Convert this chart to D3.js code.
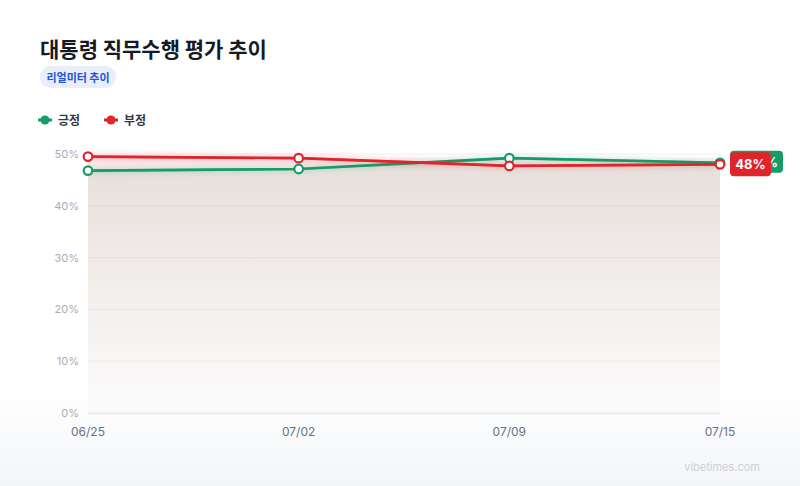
<!DOCTYPE html>
<html>
<head>
<meta charset="utf-8">
<script src="https://cdn.jsdelivr.net/npm/d3@7"></script>
<style>
  html, body { margin: 0; padding: 0; }
  body { width: 800px; height: 486px; overflow: hidden; font-family: "Noto Sans CJK KR", "Noto Sans", sans-serif; }
</style>
</head>
<body>
<div id="my_dataviz"></div>
<script>
// data
const dates = ["06/25", "07/02", "07/09", "07/15"]
const positive = [46.8, 47.1, 49.2, 48.3]
const negative = [49.5, 49.2, 47.7, 48.0]
const yTicks = [0, 10, 20, 30, 40, 50]
const seriesNames = ["긍정", "부정"]

const width = 800, height = 486
const green = "#169c67", red = "#e0242b"

const svg = d3.select("#my_dataviz")
    .append("svg")
    .attr("width", width)
    .attr("height", height)

const defs = svg.append("defs")

// page background gradient
const bg = defs.append("linearGradient").attr("id", "bg").attr("x1", 0).attr("x2", 0).attr("y1", 0).attr("y2", 1)
bg.append("stop").attr("offset", "0.8").attr("stop-color", "#ffffff")
bg.append("stop").attr("offset", "1").attr("stop-color", "#f3f5f8")
svg.append("rect").attr("width", width).attr("height", height).attr("fill", "url(#bg)")

// scales
const xScale = d3.scalePoint().domain(dates).range([88, 720])
const yScale = d3.scaleLinear().domain([0, 50]).range([413, 154])

// area gradients
function areaGrad(id, color) {
    const g = defs.append("linearGradient").attr("id", id)
        .attr("gradientUnits", "userSpaceOnUse")
        .attr("x1", 0).attr("x2", 0).attr("y1", yScale(50)).attr("y2", yScale(0))
    g.append("stop").attr("offset", 0).attr("stop-color", color).attr("stop-opacity", 0.105)
    g.append("stop").attr("offset", 1).attr("stop-color", color).attr("stop-opacity", 0.008)
}
areaGrad("gPos", green)
areaGrad("gNeg", red)

const glow = defs.append("filter").attr("id", "glow").attr("x", "-10%").attr("y", "-200%").attr("width", "120%").attr("height", "500%")
glow.append("feGaussianBlur").attr("in", "SourceGraphic").attr("stdDeviation", 3).attr("result", "b")
const fm = glow.append("feMerge")
fm.append("feMergeNode").attr("in", "b")
fm.append("feMergeNode").attr("in", "SourceGraphic")

// title
svg.append("text").attr("x", 40).attr("y", 57)
    .attr("font-size", 21).attr("font-weight", 700).attr("fill", "#161a24")
    .text("대통령 직무수행 평가 추이")

svg.append("rect").attr("x", 40).attr("y", 66).attr("width", 76).attr("height", 22).attr("rx", 11)
    .attr("fill", "#e8eefb")
svg.append("text").attr("x", 78).attr("y", 81.5).attr("text-anchor", "middle")
    .attr("font-size", 11).attr("font-weight", 700).attr("fill", "#2057d6")
    .text("리얼미터 추이")

// legend
const legend = svg.append("g")
seriesNames.forEach((n, i) => {
    const c = i === 0 ? green : red
    const lx = 38 + i * 66
    legend.append("line").attr("x1", lx).attr("x2", lx + 14).attr("y1", 120).attr("y2", 120)
        .attr("stroke", c).attr("stroke-width", 3)
    legend.append("circle").attr("cx", lx + 7).attr("cy", 120).attr("r", 4.5).attr("fill", c)
    legend.append("text").attr("x", lx + 20).attr("y", 124.5)
        .attr("font-size", 12).attr("font-weight", 700).attr("fill", "#343844")
        .text(n)
})

// grid
svg.append("g").selectAll("line").data(yTicks.slice(1)).join("line")
    .attr("x1", 88).attr("x2", 720)
    .attr("y1", d => yScale(d)).attr("y2", d => yScale(d))
    .attr("stroke", "#e8e2de").attr("stroke-opacity", 0.45).attr("stroke-width", 1)

// areas
const series = [
    {name: seriesNames[0], values: positive, color: green, grad: "gPos"},
    {name: seriesNames[1], values: negative, color: red, grad: "gNeg"}
]
const area = d3.area().x((d, i) => xScale(dates[i])).y0(yScale(0)).y1(d => yScale(d))
const line = d3.line().x((d, i) => xScale(dates[i])).y(d => yScale(d))

series.forEach(s => {
    svg.append("path").datum(s.values).attr("d", area).attr("fill", `url(#${s.grad})`)
})

// baseline
svg.append("line").attr("x1", 88).attr("x2", 720).attr("y1", yScale(0) + 0.5).attr("y2", yScale(0) + 0.5)
    .attr("stroke", "#e8ecf2").attr("stroke-width", 2)

// y axis labels
svg.append("g").selectAll("text").data(yTicks).join("text")
    .attr("x", 79).attr("y", d => yScale(d) + 4)
    .attr("text-anchor", "end").attr("font-size", 11)
    .attr("font-family", "Inter, sans-serif")
    .attr("fill", "#a8acb7")
    .text(d => d + "%")

// x axis labels
svg.append("g").selectAll("text").data(dates).join("text")
    .attr("x", d => xScale(d)).attr("y", 436)
    .attr("text-anchor", "middle").attr("font-size", 12)
    .attr("font-family", "Inter, sans-serif")
    .attr("fill", "#6b7080")
    .text(d => d)

// lines + markers
series.forEach(s => {
    svg.append("path").datum(s.values).attr("d", line)
        .attr("fill", "none").attr("stroke", s.color).attr("stroke-width", 2.6)
        .attr("stroke-opacity", 0.35).attr("filter", "url(#glow)")
    svg.append("path").datum(s.values).attr("d", line)
        .attr("fill", "none").attr("stroke", s.color).attr("stroke-width", 2.6)
})
series.forEach(s => {
    svg.append("g").selectAll("circle").data(s.values).join("circle")
        .attr("cx", (d, i) => xScale(dates[i])).attr("cy", d => yScale(d))
        .attr("r", 4.3).attr("fill", "#fff").attr("stroke", s.color).attr("stroke-width", 2.2)
})

// end labels (the red one sits on top of the green one, as in the source)
const last = dates.length - 1
const gy = yScale(positive[last]), ry = yScale(negative[last])
svg.append("rect").attr("x", 730).attr("y", gy - 12).attr("width", 53).attr("height", 22).attr("rx", 4).attr("fill", green)
svg.append("text").attr("x", 778).attr("y", gy + 4.5).attr("text-anchor", "end")
    .attr("font-size", 13).attr("font-weight", 700).attr("fill", "#fff")
    .attr("font-family", "Inter, sans-serif")
    .text(Math.round(positive[last]) + "%")
svg.append("rect").attr("x", 730).attr("y", ry - 12).attr("width", 41).attr("height", 24).attr("rx", 4).attr("fill", red)
svg.append("text").attr("x", 750.5).attr("y", ry + 5).attr("text-anchor", "middle")
    .attr("font-size", 13).attr("font-weight", 700).attr("fill", "#fff")
    .attr("font-family", "Inter, sans-serif")
    .text(Math.round(negative[last]) + "%")

// watermark
svg.append("text").attr("x", 760).attr("y", 471).attr("text-anchor", "end")
    .attr("font-size", 11).attr("fill", "#cdd1d8")
    .attr("font-family", "Inter, sans-serif")
    .text("vibetimes.com")
</script>
</body>
</html>
